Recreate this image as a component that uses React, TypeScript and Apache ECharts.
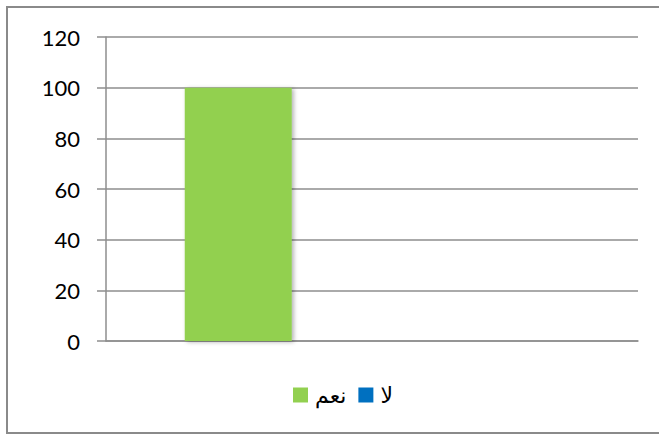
import React, { useEffect, useRef } from "react";
import * as echarts from "echarts";

const categories = [""];
const seriesNames = ["نعم", "لا"];
const yesValues = [100];
const noValues = [0];
const yTicks = [0, 20, 40, 60, 80, 100, 120];

export default function App() {
  const ref = useRef<HTMLDivElement>(null);
  useEffect(() => {
    const chart = echarts.init(ref.current!, null, { renderer: "svg" });
    chart.setOption({
      animation: false,
      backgroundColor: "#ffffff",
      graphic: [
        {
          type: "rect",
          shape: { x: 7, y: 7, width: 680, height: 426 },
          style: { fill: "none", stroke: "#8a8a8a", lineWidth: 2 },
          silent: true,
        },
      ],
      grid: { left: 106, right: 21, top: 37, bottom: 93 },
      legend: {
        data: seriesNames,
        top: 379,
        left: 288,
        itemWidth: 15,
        itemHeight: 15,
        itemGap: 12,
        icon: "rect",
        textStyle: { fontFamily: "DejaVu Sans", fontSize: 22, color: "#000", padding: [0, 0, 0, 2] },
      },
      xAxis: {
        type: "category",
        data: categories,
        axisLine: { show: true, lineStyle: { color: "#8e8e8e", width: 1.5 } },
        axisTick: { show: false },
        axisLabel: { show: false },
      },
      yAxis: {
        type: "value",
        min: yTicks[0],
        max: yTicks[yTicks.length - 1],
        interval: 20,
        axisLine: { show: true, lineStyle: { color: "#8e8e8e", width: 1.5 } },
        axisTick: { show: true, length: 9, lineStyle: { color: "#8e8e8e", width: 1.5 } },
        splitLine: { show: true, lineStyle: { color: "#8e8e8e", width: 1.5 } },
        axisLabel: {
          margin: 26,
          fontFamily: "Lato",
          fontSize: 22,
          color: "#000",
        },
      },
      series: [
        {
          name: seriesNames[0],
          type: "bar",
          data: yesValues,
          barWidth: 107,
          barGap: "150%",
          itemStyle: {
            color: "#92d050",
            shadowBlur: 4,
            shadowOffsetX: 2,
            shadowOffsetY: 1,
            shadowColor: "rgba(0,0,0,0.3)",
          },
        },
        {
          name: seriesNames[1],
          type: "bar",
          data: noValues,
          barWidth: 107,
          barGap: "150%",
          itemStyle: { color: "#0070c0" },
        },
      ],
    });
    return () => chart.dispose();
  }, []);
  return (
    <div
      ref={ref}
      style={{ position: "fixed", left: 0, top: 0, width: 659, height: 434 }}
    />
  );
}
